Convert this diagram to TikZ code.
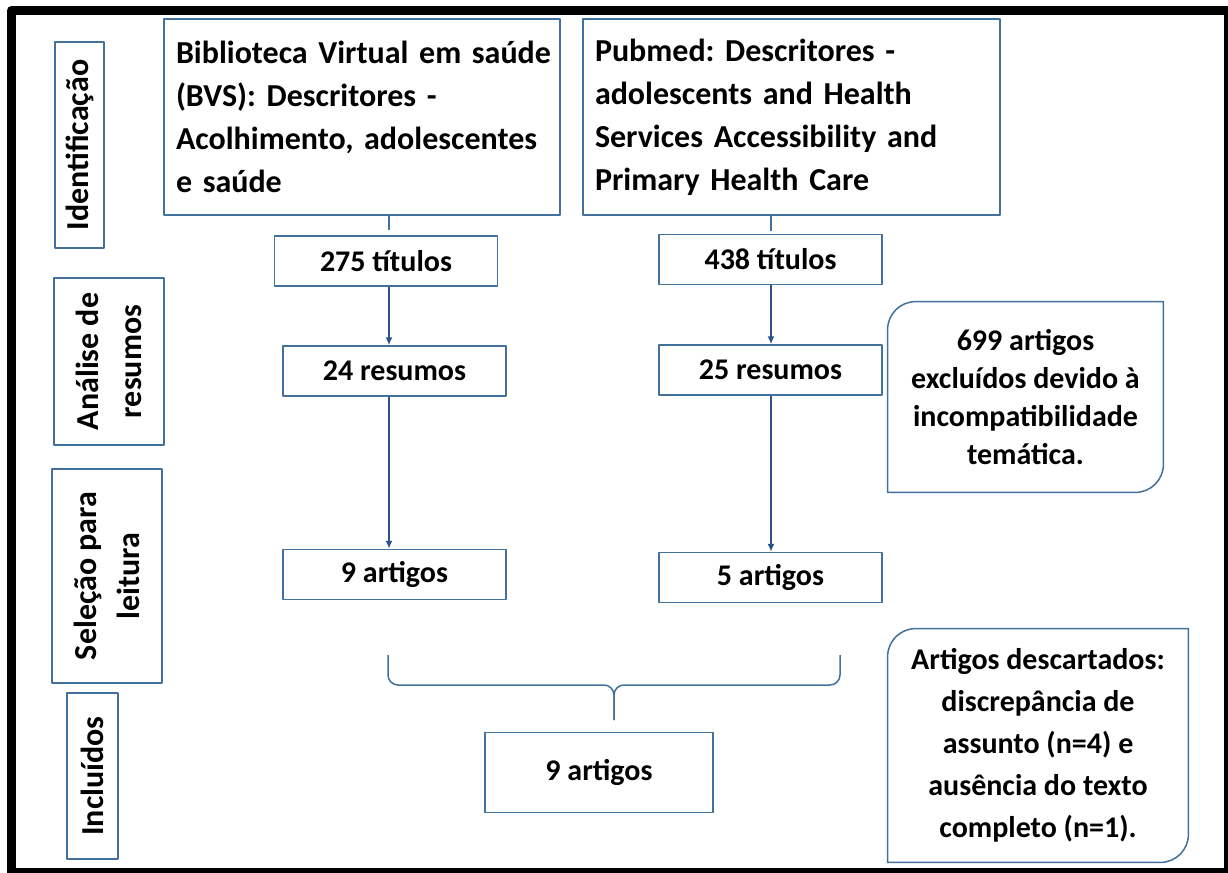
\documentclass[tikz,border=0pt]{standalone}
\usepackage{fontspec}
\setmainfont{Carlito}
\usetikzlibrary{arrows.meta,calc}
\definecolor{boxblue}{RGB}{65,113,156}
\definecolor{arrowblue}{RGB}{47,82,143}
\frenchspacing
\begin{document}
\begin{tikzpicture}[x=0.5pt, y=-0.5pt, line join=round,
  box/.style={draw=boxblue, line width=0.75pt, inner sep=0pt, font=\bfseries\fontsize{15}{21.5}\selectfont},
  stagebox/.style={box, rotate=90, align=center, font=\bfseries\fontsize{16}{21.5}\selectfont},
  srcbox/.style={box, align=left, inner xsep=6pt, font=\bfseries\fontsize{16}{21.5}\selectfont},
  numbox/.style={box, minimum width=111.5pt, minimum height=25pt},
  rbox/.style={inner sep=0pt, align=center, font=\bfseries\fontsize{15}{19}\selectfont},
  lnk/.style={draw=boxblue, line width=0.75pt},
  arr/.style={draw=arrowblue, line width=0.75pt, -{Latex[length=4pt,width=3.5pt]}}
]
  \useasboundingbox (0,0) rectangle (1228,873);
  \clip (0,0) rectangle (1228,873);
  \draw[line width=4.5pt] (11.5,10.5) rectangle (1228.5,872.5);

  \coordinate (cIdent) at (79.5,145);
  \coordinate (cAnal) at (109,361.5);
  \coordinate (cSel) at (107,576);
  \coordinate (cIncl) at (92.5,776);

  \coordinate (cBvs) at (362,117);
  \coordinate (cPub) at (791.5,117);
  \coordinate (cT275) at (386,261);
  \coordinate (cT438) at (770.5,259.5);
  \coordinate (cR24) at (394.5,371);
  \coordinate (cR25) at (770.5,370);
  \coordinate (cA9) at (394.5,574.5);
  \coordinate (cA5) at (770.5,577.5);
  \coordinate (cFin) at (599,772.5);
  \coordinate (cExcl) at (1025.5,397);
  \coordinate (cDesc) at (1038,745.5);

  \coordinate (lcol) at (389,0);
  \coordinate (rcol) at (771,0);
  \coordinate (brL) at (388,655);
  \coordinate (brR) at (840,655);
  \coordinate (brM) at (614,685);
  \coordinate (brT) at (614,720);

  \node[stagebox, minimum width=103pt, minimum height=24.5pt] (ident) at (cIdent) {Identificação};
  \node[stagebox, minimum width=83.5pt, minimum height=55pt] (anal) at (cAnal) {Análise de\\resumos};
  \node[stagebox, minimum width=107pt, minimum height=55pt] (sel) at (cSel) {Seleção para\\leitura};
  \node[stagebox, minimum width=83pt, minimum height=25.5pt] (incl) at (cIncl) {Incluídos};

  \node[srcbox, minimum width=198pt, minimum height=98pt, text width=186pt] (bvs) at (cBvs)
    {\mbox{Biblioteca Virtual em saúde}\\(BVS): Descritores -\\Acolhimento, adolescentes\\e saúde\par\vspace{5pt}};
  \node[srcbox, minimum width=208.5pt, minimum height=98pt, text width=196.5pt] (pub) at (cPub)
    {Pubmed: Descritores -\\adolescents and Health\\Services Accessibility and\\Primary Health Care\par\vspace{5pt}};

  \node[numbox] (t275) at (cT275) {275 títulos};
  \node[numbox] (t438) at (cT438) {438 títulos};
  \node[numbox] (r24) at (cR24) {24 resumos};
  \node[numbox] (r25) at (cR25) {25 resumos};
  \node[numbox] (a9) at (cA9) {9 artigos};
  \node[numbox] (a5) at (cA5) {5 artigos};
  \node[numbox, minimum width=114pt, minimum height=40pt] (fin) at (cFin) {9 artigos};

  \node[rbox, minimum width=137.5pt, minimum height=95pt] (excl) at (cExcl)
    {699 artigos\\excluídos devido à\\incompatibilidade\\temática.};
  \node[rbox, minimum width=150pt, minimum height=116.5pt, font=\bfseries\fontsize{15}{21}\selectfont] (desc) at (cDesc)
    {Artigos descartados:\\discrepância de\\assunto (n=4) e\\ausência do texto\\completo (n=1).};

  \draw[lnk] ([yshift=-14pt]excl.north west) arc[start angle=180, end angle=90, radius=14pt]
    -- (excl.north east) -- ([yshift=14pt]excl.south east) arc[start angle=0, end angle=-90, radius=14pt]
    -- (excl.south west) -- cycle;
  \draw[lnk] ([yshift=-14pt]desc.north west) arc[start angle=180, end angle=90, radius=14pt]
    -- (desc.north east) -- ([yshift=14pt]desc.south east) arc[start angle=0, end angle=-90, radius=14pt]
    -- (desc.south west) -- cycle;

  \draw[lnk] (bvs.south -| lcol) -- ($(t275.north -| lcol)+(0,-5)$);
  \draw[lnk] (pub.south -| rcol) -- ($(t438.north -| rcol)+(0,-3)$);

  \draw[arr] (t275.south -| lcol) -- (r24.north -| lcol);
  \draw[arr] (r24.south -| lcol) -- (a9.north -| lcol);
  \draw[arr] (t438.south -| rcol) -- (r25.north -| rcol);
  \draw[arr] (r25.south -| rcol) -- (a5.north -| rcol);

  \draw[lnk, rounded corners=5pt] (brL) |- (brM) -- (brT);
  \draw[lnk, rounded corners=5pt] (brR) |- (brM) -- (brT);
\end{tikzpicture}
\end{document}
